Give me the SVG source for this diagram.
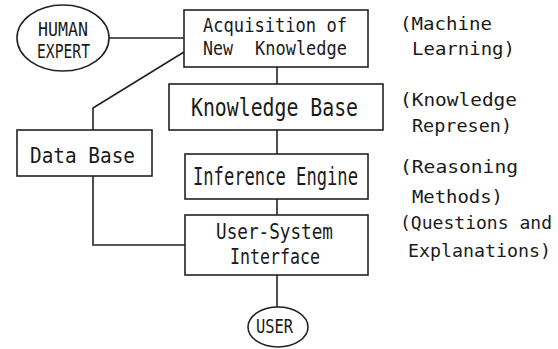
<svg xmlns="http://www.w3.org/2000/svg" width="558" height="349" viewBox="0 0 558 349">
<style>
.box{fill:#fff;stroke:#222;stroke-width:1.6}
.ln{fill:none;stroke:#222;stroke-width:1.6}
text{font-family:"DejaVu Sans Mono","Liberation Mono",monospace;fill:#1a1a1a;}
.s18{font-size:18px}
.s20{font-size:20px}
.s22{font-size:22px}
.s25{font-size:25px}
</style>
<rect width="558" height="349" fill="#fff"/>
<g id="connectors">
<line class="ln" x1="109" y1="38" x2="184" y2="38"/>
<polyline class="ln" points="184,52 93,108 93,130"/>
<polyline class="ln" points="93,176 93,245 185,245"/>
<line class="ln" x1="277" y1="67" x2="277" y2="84"/>
<line class="ln" x1="277" y1="130" x2="277" y2="154"/>
<line class="ln" x1="277" y1="199" x2="277" y2="215"/>
<line class="ln" x1="277" y1="275" x2="277" y2="307"/>
</g>
<g id="human-expert">
<ellipse class="box" cx="63" cy="38" rx="46" ry="33"/>
<text class="s20" x="38" y="36" textLength="50" lengthAdjust="spacingAndGlyphs">HUMAN</text>
<text class="s20" x="37" y="58" textLength="53" lengthAdjust="spacingAndGlyphs">EXPERT</text>
</g>
<g id="acquisition">
<rect class="box" x="184" y="10" width="184" height="57"/>
<text class="s20" x="203" y="32" textLength="144" lengthAdjust="spacingAndGlyphs">Acquisition of</text>
<text class="s20" y="55"><tspan x="203" textLength="30" lengthAdjust="spacingAndGlyphs">New</tspan> <tspan x="255" textLength="92" lengthAdjust="spacingAndGlyphs">Knowledge</tspan></text>
</g>
<g id="knowledge-base">
<rect class="box" x="169" y="84" width="214" height="46"/>
<text class="s25" x="191" y="116" textLength="167" lengthAdjust="spacingAndGlyphs">Knowledge Base</text>
</g>
<g id="inference-engine">
<rect class="box" x="185" y="154" width="183" height="45"/>
<text class="s25" x="193" y="185" textLength="165" lengthAdjust="spacingAndGlyphs">Inference Engine</text>
</g>
<g id="user-system-interface">
<rect class="box" x="185" y="215" width="183" height="60"/>
<text class="s22" x="216" y="239" textLength="117" lengthAdjust="spacingAndGlyphs">User-System</text>
<text class="s22" x="230" y="264" textLength="90" lengthAdjust="spacingAndGlyphs">Interface</text>
</g>
<g id="data-base">
<rect class="box" x="17" y="130" width="135" height="46"/>
<text class="s22" x="30" y="163" textLength="105" lengthAdjust="spacingAndGlyphs">Data Base</text>
</g>
<g id="user">
<ellipse class="box" cx="278" cy="327" rx="30" ry="20"/>
<text class="s20" x="256" y="333" textLength="37" lengthAdjust="spacingAndGlyphs">USER</text>
</g>
<g id="labels">
<text class="s18" x="400" y="30" textLength="92" lengthAdjust="spacingAndGlyphs">(Machine</text>
<text class="s18" x="412" y="55" textLength="103" lengthAdjust="spacingAndGlyphs">Learning)</text>
<text class="s18" x="400" y="106" textLength="117" lengthAdjust="spacingAndGlyphs">(Knowledge</text>
<text class="s18" x="412" y="132" textLength="100" lengthAdjust="spacingAndGlyphs">Represen)</text>
<text class="s18" x="400" y="173" textLength="118" lengthAdjust="spacingAndGlyphs">(Reasoning</text>
<text class="s18" x="412" y="203" textLength="91" lengthAdjust="spacingAndGlyphs">Methods)</text>
<text class="s18" x="400" y="229" textLength="152" lengthAdjust="spacingAndGlyphs">(Questions and</text>
<text class="s18" x="408" y="257" textLength="143" lengthAdjust="spacingAndGlyphs">Explanations)</text>
</g>
</svg>
